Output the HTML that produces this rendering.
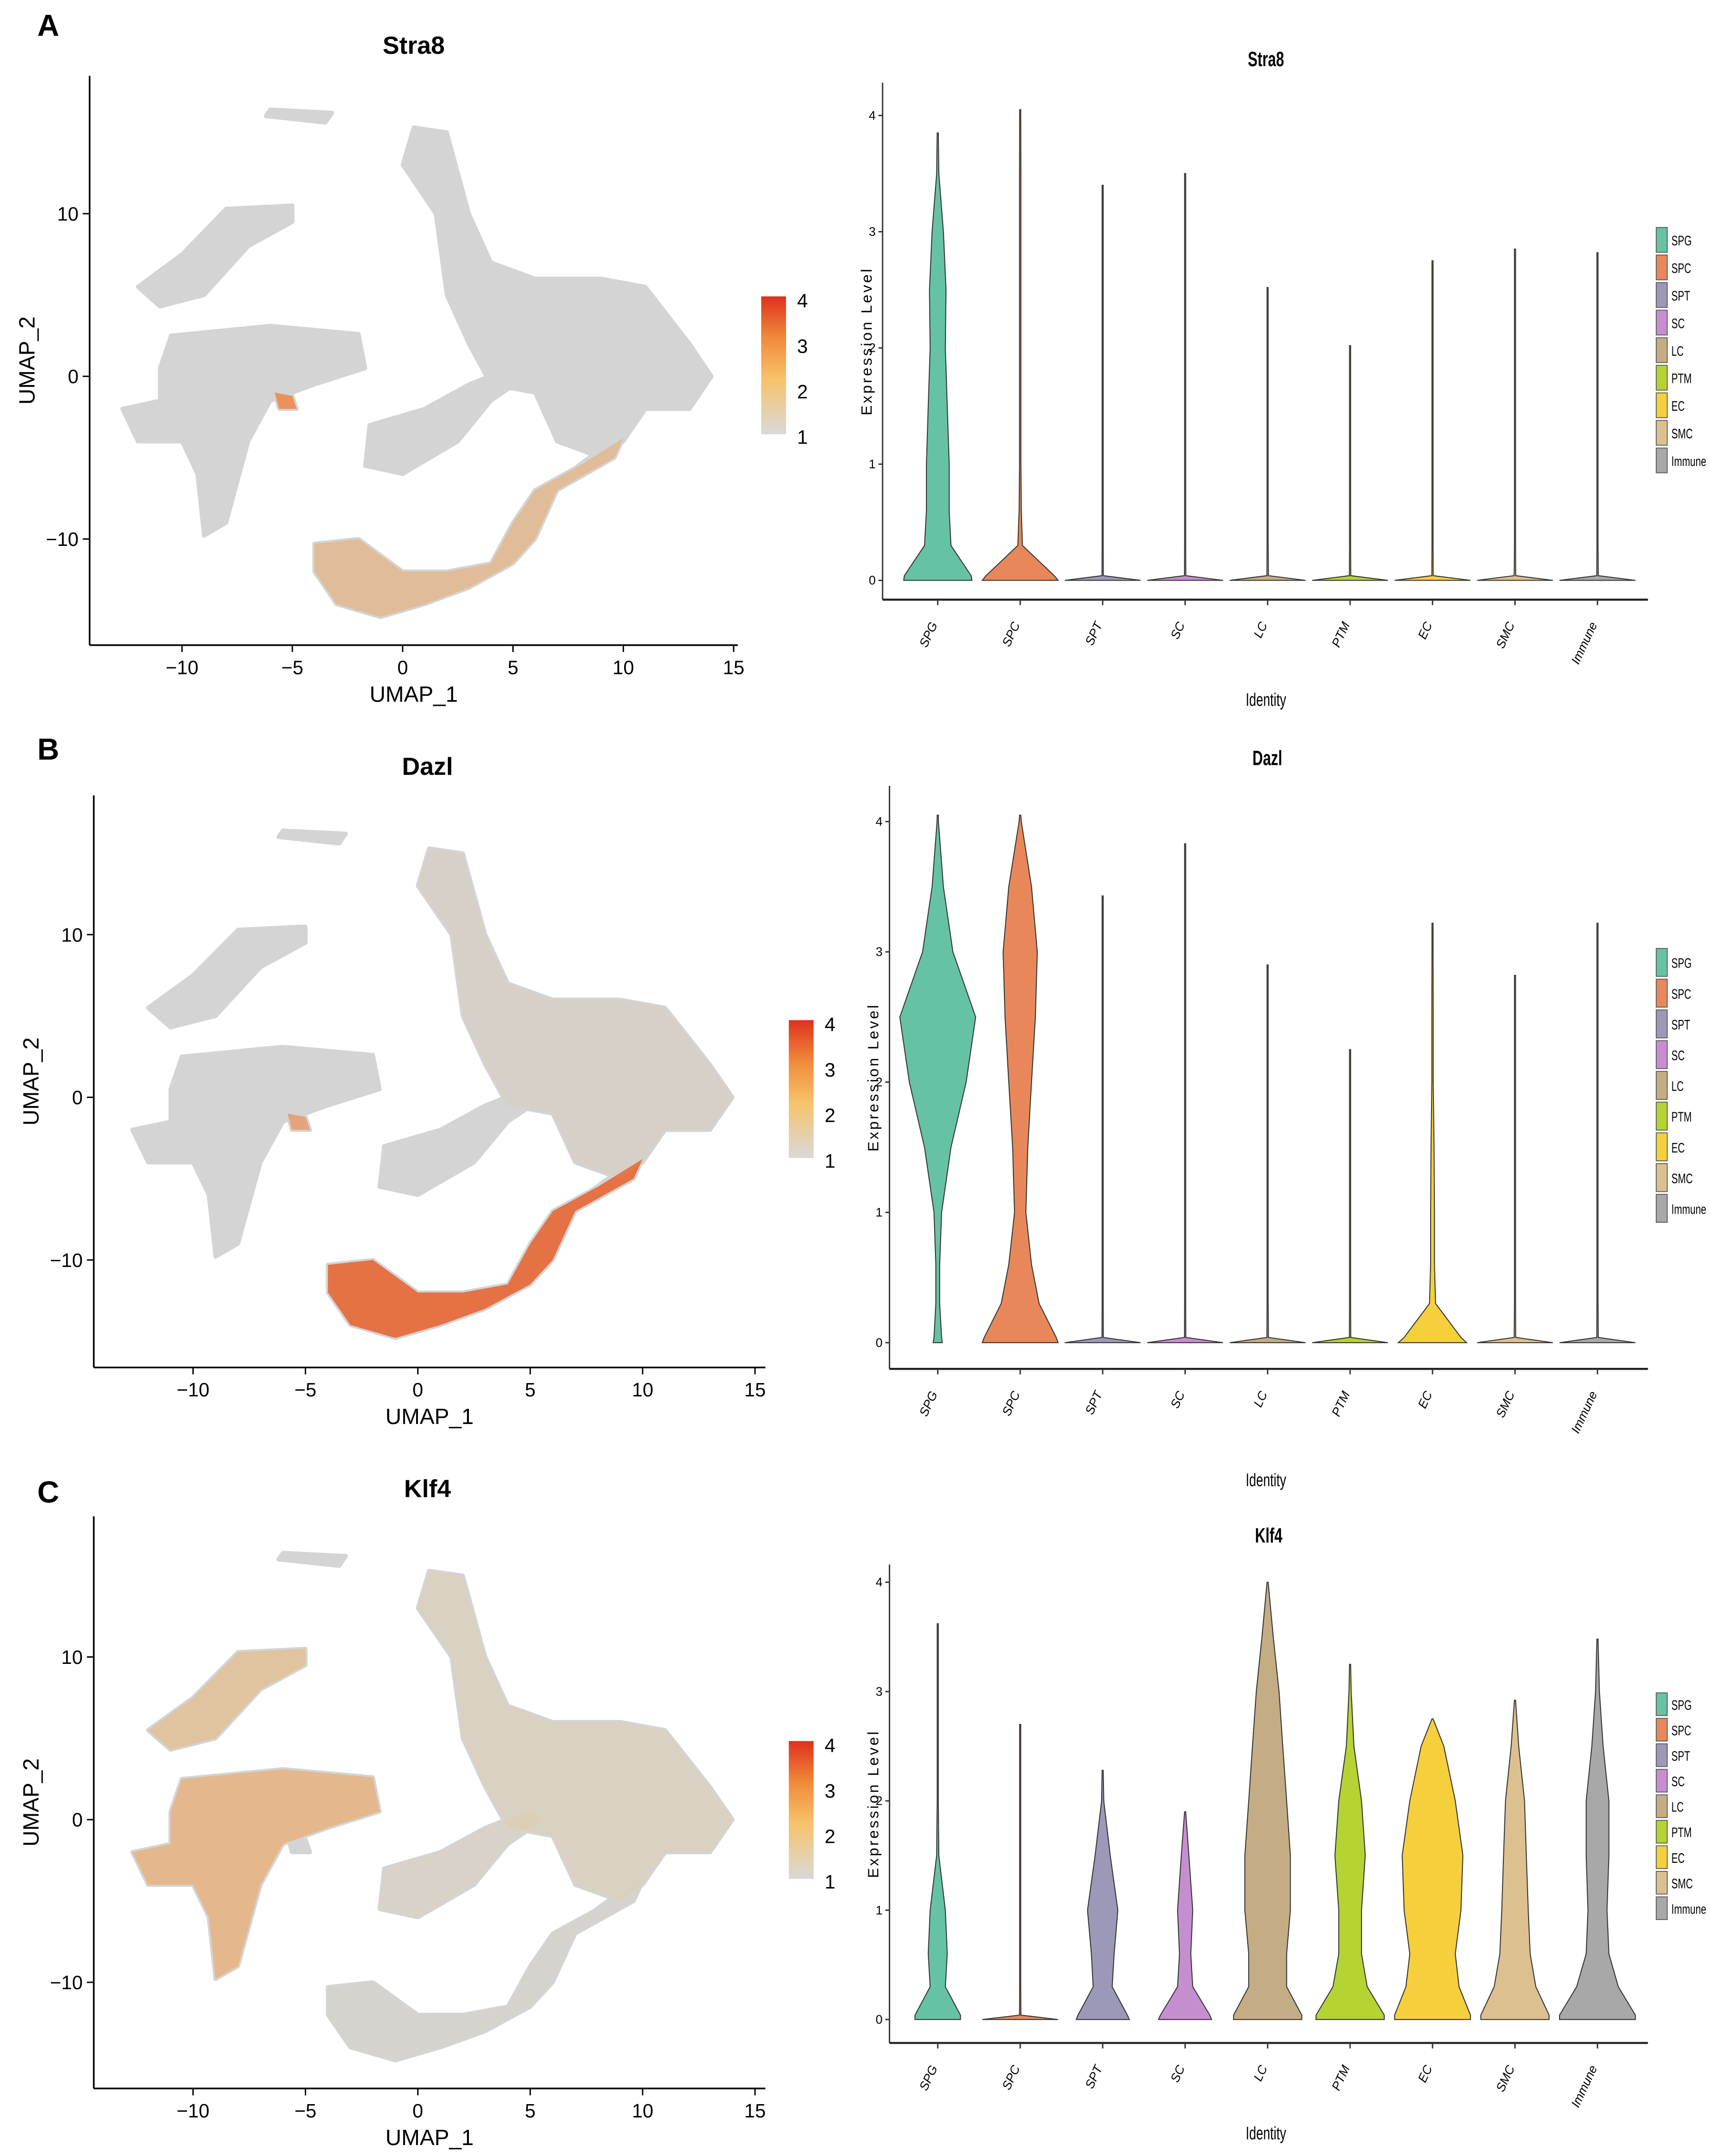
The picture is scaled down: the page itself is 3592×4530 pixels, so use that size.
<!DOCTYPE html>
<html><head><meta charset="utf-8"><style>
html,body{margin:0;padding:0;background:#fff;}
svg{display:block;}
text{font-family:"Liberation Sans",sans-serif;}
</style></head><body>
<svg id="fig" xmlns="http://www.w3.org/2000/svg" width="3592" height="4530" viewBox="0 0 1240 1564" preserveAspectRatio="none">
<rect width="1240" height="1564" fill="#fff"/>
</svg>
<script>
// ---------- DATA ----------
const categories = ["SPG","SPC","SPT","SC","LC","PTM","EC","SMC","Immune"];
const catColors = ["#66c2a5","#e8885a","#9c98b8","#c58fcf","#c4ad84","#b5d333","#f5cf3c","#dcc08f","#a8a8a8"];
const levels = [0,0.04,0.3,0.6,1,1.5,2,2.5,3,3.5,4];
const yTicks = [0,1,2,3,4];
const umapXTicks = [-10,-5,0,5,10,15];
const umapYTicks = [10,0,-10];
const genes = ["Stra8","Dazl","Klf4"];
const panelLetters = ["A","B","C"];
const stra8Max = [3.85,4.05,3.4,3.5,2.52,2.02,2.75,2.85,2.82];
const dazlMax  = [4.05,4.05,3.43,3.83,2.9,2.25,3.22,2.82,3.22];
const klf4Max  = [3.62,2.7,2.28,1.9,4.0,3.25,2.75,2.92,3.48];
const stra8Widths = [
 [0.9,0.88,0.35,0.3,0.3,0.25,0.2,0.22,0.15,0.03,0],
 [1,0.9,0.06,0.03,0.02,0.02,0.02,0.02,0.02,0.02,0],
 [1,0.02,0.01,0.01,0.01,0.01,0.01,0.01,0.01,0.01,0],
 [1,0.02,0.01,0.01,0.01,0.01,0.01,0.01,0.01,0.01,0],
 [1,0.02,0.01,0.01,0.01,0.01,0.01,0.01,0.01,0.01,0],
 [1,0.02,0.01,0.01,0.01,0.01,0.01,0.01,0.01,0.01,0],
 [1,0.02,0.01,0.01,0.01,0.01,0.01,0.01,0.01,0.01,0],
 [1,0.02,0.01,0.01,0.01,0.01,0.01,0.01,0.01,0.01,0],
 [1,0.02,0.01,0.01,0.01,0.01,0.01,0.01,0.01,0.01,0]];
const dazlWidths = [
 [0.12,0.1,0.05,0.05,0.1,0.35,0.75,1,0.4,0.15,0.02],
 [1,0.95,0.5,0.3,0.15,0.2,0.3,0.4,0.45,0.3,0.03],
 [1,0.02,0.01,0.01,0.01,0.01,0.01,0.01,0.01,0.01,0],
 [1,0.02,0.01,0.01,0.01,0.01,0.01,0.01,0.01,0.01,0],
 [1,0.02,0.01,0.01,0.01,0.01,0.01,0.01,0.01,0.01,0],
 [1,0.02,0.01,0.01,0.01,0.01,0.01,0.01,0.01,0.01,0],
 [0.9,0.75,0.08,0.05,0.05,0.04,0.02,0.02,0.01,0.01,0],
 [1,0.02,0.01,0.01,0.01,0.01,0.01,0.01,0.01,0.01,0],
 [1,0.02,0.01,0.01,0.01,0.01,0.01,0.01,0.01,0.01,0]];
const klf4Widths = [
 [0.6,0.6,0.2,0.25,0.2,0.03,0.01,0.01,0.01,0.01,0],
 [1,0.02,0.01,0.01,0.01,0.01,0.01,0.01,0.01,0.01,0],
 [0.7,0.65,0.25,0.3,0.4,0.2,0.03,0.01,0.01,0.01,0],
 [0.7,0.65,0.2,0.15,0.2,0.1,0.02,0.01,0.01,0.01,0],
 [0.9,0.9,0.5,0.5,0.6,0.6,0.5,0.4,0.3,0.15,0.01],
 [0.9,0.9,0.45,0.3,0.3,0.4,0.3,0.1,0.03,0.01,0],
 [1,1,0.7,0.6,0.75,0.8,0.6,0.3,0.01,0.01,0],
 [0.9,0.9,0.55,0.4,0.35,0.3,0.25,0.1,0.02,0.01,0],
 [1,1,0.55,0.3,0.25,0.3,0.3,0.15,0.05,0.01,0]];
const geneMax = [stra8Max,dazlMax,klf4Max];
const geneWidths = [stra8Widths,dazlWidths,klf4Widths];
const clusterTopLeft = [[-12,5.5],[-10,7.5],[-8,10.3],[-5,10.5],[-5,9.5],[-7,8],[-9,5],[-11,4.3]];
const clusterLeft = [[-10.5,2.5],[-6,3.1],[-2,2.6],[-1.7,0.5],[-4,-0.5],[-6,-1.5],[-7,-4],[-8,-9],[-9,-9.8],[-9.3,-6],[-10,-4],[-12,-4],[-12.7,-2],[-11,-1.5],[-11,0.5]];
const clusterMid = [[-1.7,-5.5],[-1.5,-3],[1,-2],[3,-0.5],[5,0.6],[5.6,0],[4,-1.5],[2.5,-4],[0,-6]];
const clusterRight = [[0.5,15.3],[2,15],[3,10],[4,7],[6,6],[9,6],[11,5.5],[13,2],[14,0],[13,-2],[11,-2],[10,-4],[9,-5],[7,-4],[6,-1],[4,-0.5],[3,2],[2,5],[1.5,10],[0,13]];
const clusterLow = [[-4,-10.3],[-2,-10],[0,-12],[2,-12],[4,-11.5],[5,-9],[6,-7],[8,-5.5],[10,-3.8],[9.6,-5],[7,-7],[6,-10],[5,-11.5],[3,-13],[1,-14],[-1,-14.8],[-3,-14],[-4,-12]];
const clusterTop = [[-6.2,16],[-3.5,15.6],[-3.2,16.2],[-6,16.4]];
const clusterSmall = [[-5.8,-1],[-5,-1.2],[-4.8,-2],[-5.6,-2]];
const clusters = [clusterTopLeft,clusterLeft,clusterMid,clusterRight,clusterLow,clusterTop,clusterSmall];
const stra8Overlay = [[4,0.45,"#f0a050"],[6,0.8,"#f08040"]];
const dazlOverlay = [[4,0.85,"#e8602c"],[3,0.1,"#f0b060"],[6,0.6,"#f08040"]];
const klf4Overlay = [[1,0.55,"#f0a050"],[0,0.45,"#f0b060"],[3,0.18,"#f5c870"],[2,0.12,"#f5c870"],[4,0.06,"#f5c870"]];
const overlays = [stra8Overlay,dazlOverlay,klf4Overlay];

// ---------- LAYOUT ----------
const umapLayout = [
 {x0:292,ux:16,y0:273,uy:11.8,left:65,top:55,bottom:468,right:535,title:[300,33],letter:[35,18],cb:[552,215]},
 {x0:303,ux:16.3,y0:796,uy:11.8,left:68,top:577,bottom:992,right:555,title:[310,556],letter:[35,543],cb:[572,740]},
 {x0:303,ux:16.3,y0:1320,uy:11.8,left:68,top:1100,bottom:1515,right:555,title:[310,1080],letter:[35,1082],cb:[572,1263]}];
const vioLayout = [
 {left:640,top:60,base:421,unit:84.3,axisY:435,title:[918,42],ident:512,legTop:165,legStep:20},
 {left:645,top:570,base:974,unit:94.5,axisY:993,title:[919,549],ident:1078,legTop:688,legStep:22.3},
 {left:645,top:1135,base:1465,unit:79.3,axisY:1482,title:[920,1113],ident:1552,legTop:1228,legStep:18.5}];
const catX0 = 680, catStep = 59.8;

const NS="http://www.w3.org/2000/svg";
const svg=document.getElementById('fig');
function mk(tag,attrs,parent,txt){const e=document.createElementNS(NS,tag);for(const k in attrs)e.setAttribute(k,attrs[k]);if(txt!==undefined)e.textContent=txt;(parent||svg).appendChild(e);return e;}

genes.forEach((g,gi)=>{
  const L=umapLayout[gi];
  const sx=v=>L.x0+L.ux*v, sy=v=>L.y0-L.uy*v;
  const grp=mk('g',{});
  
  
  const lt=mk('text',{x:L.letter[0],y:L.letter[1]+8,'font-size':22,'font-weight':'bold','font-family':'Liberation Serif,serif','text-anchor':'middle'},grp,panelLetters[gi]);
  
  
  const tt=mk('text',{x:L.title[0],y:L.title[1]+6,'font-size':18,'font-weight':'bold','text-anchor':'middle'},grp,g);
  
  
  clusters.forEach((c,ci)=>{
    const d='M'+c.map(p=>sx(p[0]).toFixed(1)+','+sy(p[1]).toFixed(1)).join('L')+'Z';
    const p=mk('path',{d:d,fill:'#d4d4d4',stroke:'#d4d4d4','stroke-width':3,'stroke-linejoin':'round'},grp);
    
    
  });
  const arm=mk('path',{d:`M${sx(6)},${sy(-8)} Q${sx(8)},${sy(-5)} ${sx(10)},${sy(-3.8)}`,fill:'none',stroke:'#d4d4d4','stroke-width':3},grp);
  
  
  overlays[gi].forEach(o=>{
    const c=clusters[o[0]];
    const d='M'+c.map(p=>sx(p[0]).toFixed(1)+','+sy(p[1]).toFixed(1)).join('L')+'Z';
    const p=mk('path',{d:d,fill:o[2],'fill-opacity':o[1],'stroke-linejoin':'round'},grp);
    
    
  });
  mk('line',{x1:L.left,y1:L.top,x2:L.left,y2:L.bottom,stroke:'#000','stroke-width':1.2},grp);
  mk('line',{x1:L.left,y1:L.bottom,x2:L.right,y2:L.bottom,stroke:'#000','stroke-width':1.2},grp);
  umapXTicks.forEach(t=>{
    mk('line',{x1:sx(t),y1:L.bottom,x2:sx(t),y2:L.bottom+5,stroke:'#000'},grp);
    const e=mk('text',{x:sx(t),y:L.bottom+21,'font-size':14,'text-anchor':'middle'},grp,t<0?'\u2212'+(-t):t);
    
    
  });
  umapYTicks.forEach(t=>{
    mk('line',{x1:L.left-5,y1:sy(t),x2:L.left,y2:sy(t),stroke:'#000'},grp);
    const e=mk('text',{x:L.left-8,y:sy(t)+5,'font-size':14,'text-anchor':'end'},grp,t<0?'\u2212'+(-t):t);
    
    
  });
  const xl=mk('text',{x:(L.left+L.right)/2,y:L.bottom+41,'font-size':16,'text-anchor':'middle'},grp,'UMAP_1');
  
  
  const yy=(L.top+L.bottom)/2;
  const yl=mk('text',{x:L.left-40,y:yy,'font-size':16,'text-anchor':'middle',transform:`rotate(-90 ${L.left-40} ${yy})`},grp,'UMAP_2');
  
  
  const gid='cg'+gi;
  const defs=mk('defs',{},grp);
  const lg=mk('linearGradient',{id:gid,x1:0,y1:1,x2:0,y2:0},defs);
  mk('stop',{offset:'0','stop-color':'#d9d9d9'},lg);
  mk('stop',{offset:'0.4','stop-color':'#f7c36a'},lg);
  mk('stop',{offset:'0.7','stop-color':'#f08a3a'},lg);
  mk('stop',{offset:'1','stop-color':'#e0301e'},lg);
  const cb=mk('rect',{x:L.cb[0],y:L.cb[1],width:18,height:100,fill:`url(#${gid})`},grp);
  
  
  [4,3,2,1].forEach((v,i)=>{
    const e=mk('text',{x:L.cb[0]+26,y:L.cb[1]+8+i*33,'font-size':14},grp,v);
    
    
  });

  const V=vioLayout[gi];
  const vy=v=>V.base-V.unit*v;
  const vg=mk('g',{});
  
  
  const vt=mk('text',{x:V.title[0],y:V.title[1]+6,'font-size':15,'font-weight':'bold','text-anchor':'middle',transform:`translate(${V.title[0]},0) scale(0.7,1) translate(${-V.title[0]},0)`},vg,g);
  
  
  const right=1195;
  mk('line',{x1:V.left,y1:V.top,x2:V.left,y2:V.axisY,stroke:'#333','stroke-width':1},vg);
  mk('line',{x1:V.left,y1:V.axisY,x2:right,y2:V.axisY,stroke:'#222','stroke-width':1.5},vg);
  yTicks.forEach(t=>{
    mk('line',{x1:V.left-3,y1:vy(t),x2:V.left,y2:vy(t),stroke:'#333'},vg);
    const e=mk('text',{x:V.left-5,y:vy(t)+3,'font-size':9,'text-anchor':'end'},vg,t);
    
    
  });
  const ey=(V.top+V.axisY)/2;
  const el=mk('text',{x:V.left-8,y:ey,'font-size':11,'text-anchor':'middle','letter-spacing':1.5,transform:`rotate(-90 ${V.left-8} ${ey})`},vg,'Expression Level');
  
  
  categories.forEach((c,ci)=>{
    const cx=catX0+ci*catStep;
    const mx=geneMax[gi][ci], ws=geneWidths[gi][ci];
    const pts=[];
    levels.forEach((lv,li)=>{ if(lv<mx) pts.push([lv,ws[li]*27.5]); });
    pts.push([mx,0]);
    let d='M'+cx+','+vy(0);
    pts.forEach(p=>{d+='L'+(cx+Math.max(p[1],0.4)).toFixed(1)+','+vy(p[0]).toFixed(1);});
    for(let i=pts.length-1;i>=0;i--){const p=pts[i];d+='L'+(cx-Math.max(p[1],0.4)).toFixed(1)+','+vy(p[0]).toFixed(1);}
    d+='Z';
    const v=mk('path',{d:d,fill:catColors[ci],stroke:'#333','stroke-width':0.7},vg);
    
    
    mk('line',{x1:cx,y1:V.axisY,x2:cx,y2:V.axisY+4,stroke:'#333'},vg);
    const ly=V.axisY+18;
    const xt=mk('text',{x:cx,y:ly,'font-size':9,'font-style':'italic','text-anchor':'end',transform:`rotate(-65 ${cx} ${ly})`},vg,c);
    
    
    const ly2=V.legTop+ci*V.legStep;
    const lr=mk('rect',{x:1201,y:ly2,width:8,height:V.legStep-2,fill:catColors[ci],stroke:'#555','stroke-width':0.6},vg);
    
    
    const lt2=mk('text',{x:1212,y:ly2+V.legStep/2+3,'font-size':10,transform:`translate(1212,0) scale(0.7,1) translate(-1212,0)`},vg,c);
    
    
  });
  const it=mk('text',{x:918,y:V.ident,'font-size':13,'text-anchor':'middle',transform:`translate(918,0) scale(0.7,1) translate(-918,0)`},vg,'Identity');
  
  
});
</script>
</body></html>
